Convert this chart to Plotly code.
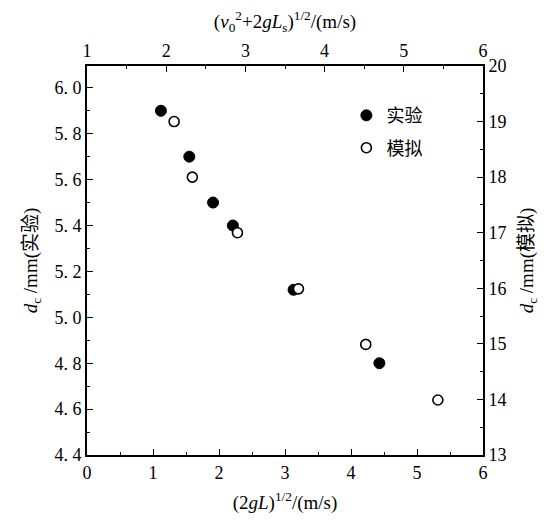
import plotly.graph_objects as go

# 实验 (bottom / left axes)
exp_x = [1.12, 1.55, 1.91, 2.21, 3.13, 4.43]
exp_y = [5.90, 5.70, 5.50, 5.40, 5.12, 4.80]
# 模拟 (top / right axes)
sim_x = [2.10, 2.33, 2.90, 3.67, 4.52, 5.43]
sim_y = [19.0, 18.0, 17.0, 15.99, 14.99, 13.99]

left_ticks = [4.4, 4.6, 4.8, 5.0, 5.2, 5.4, 5.6, 5.8, 6.0]
left_text = ["4. 4", "4. 6", "4. 8", "5. 0", "5. 2", "5. 4", "5. 6", "5. 8", "6. 0"]
right_ticks = [13, 14, 15, 16, 17, 18, 19, 20]
bottom_ticks = [0, 1, 2, 3, 4, 5, 6]
top_ticks = [1, 2, 3, 4, 5, 6]

SERIF = "'Liberation Serif', 'Times New Roman', 'DejaVu Serif', 'Noto Sans CJK SC', serif"
fig = go.Figure()
fig.add_trace(go.Scatter(x=exp_x, y=exp_y, mode="markers", name="实验", legendgroup="a",
                         marker=dict(size=11, color="black", line=dict(color="black", width=1)),
                         xaxis="x", yaxis="y"))
fig.add_trace(go.Scatter(x=sim_x, y=sim_y, mode="markers", name="模拟", legendgroup="b",
                         marker=dict(size=10, color="white", line=dict(color="black", width=1.6)),
                         xaxis="x2", yaxis="y2"))

common = dict(showline=True, linecolor="black", linewidth=1.8, ticks="inside", ticklen=6,
              tickcolor="black", tickwidth=1.4, showgrid=False, zeroline=False,
              tickfont=dict(family=SERIF, size=18, color="black"))
minor = dict(ticks="inside", ticklen=3.5, tickcolor="black", tickwidth=1.2)
TF = dict(family=SERIF, size=19, color="black")

fig.update_layout(
    width=543, height=514,
    margin=dict(l=79, r=68, t=56, b=65),
    paper_bgcolor="white", plot_bgcolor="white",
    font=dict(family=SERIF, color="black"),
    xaxis=dict(range=[0, 6], tickvals=bottom_ticks, side="bottom",
               minor=dict(dtick=0.5, **minor),
               title=dict(text="(2<i>gL</i>)<sup>1/2</sup>/(m/s)", font=TF, standoff=14),
               **common),
    xaxis2=dict(range=[1, 6], tickvals=top_ticks, side="top", overlaying="x", anchor="y",
                minor=dict(dtick=0.5, **minor),
                title=dict(text="(<i>v</i><sub>0</sub><sup>2</sup>+2<i>gL</i><sub>s</sub>)<sup>1/2</sup>/(m/s)",
                           font=TF, standoff=8),
                **common),
    yaxis=dict(range=[4.4, 6.095], tickvals=left_ticks, ticktext=left_text, side="left",
               minor=dict(dtick=0.1, tick0=4.4, **minor),
               title=dict(text="<i>d</i><sub>c</sub> /mm(实验)", font=TF, standoff=12),
               **common),
    yaxis2=dict(range=[13, 20], tickvals=right_ticks, side="right", overlaying="y", anchor="x",
                minor=dict(dtick=0.5, **minor),
                title=dict(text="<i>d</i><sub>c</sub> /mm(模拟)", font=TF, standoff=14),
                **common),
    legend=dict(x=0.655, y=0.92, xanchor="left", yanchor="top", bgcolor="rgba(0,0,0,0)",
                font=dict(family="'Noto Sans CJK SC'", size=18, color="black"), itemwidth=30,
                tracegroupgap=6),
    showlegend=True,
)

fig.write_html("out.html")
